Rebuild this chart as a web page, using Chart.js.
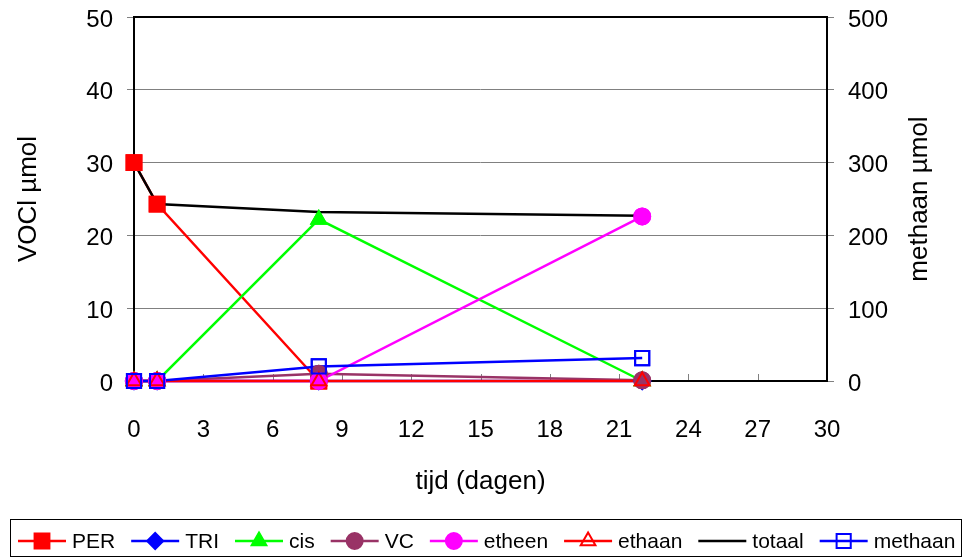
<!DOCTYPE html>
<html>
<head>
<meta charset="utf-8">
<script src="https://cdn.jsdelivr.net/npm/chart.js@4.4.1/dist/chart.umd.min.js"></script>
<style>
  html, body { margin: 0; padding: 0; background: #fff; }
</style>
</head>
<body>
<canvas id="chart" width="967" height="558"></canvas>
<script>
// tijd in dagen
var tijd = [0, 1, 8, 22];

// VOCl µmol (linker as)
var PER = [30, 24.3, 0, null];
var TRI = [0, 0, 0, 0];
var cis = [0, 0, 22.2, 0];
var VC = [0, 0, 1.0, 0.1];
var etheen = [0, 0, 0, 22.6];
var ethaan = [0, 0, 0, 0];
var totaal = [30, 24.3, 23.2, 22.7];

// methaan µmol (rechter as)
var methaan = [0, 0, 20, 31.5];

var xTicks = [0, 3, 6, 9, 12, 15, 18, 21, 24, 27, 30];
var font = '"Liberation Sans", Arial, sans-serif';

function pts(values) {
    return tijd.map(function (t, i) { return { x: t, y: values[i] }; });
}

function series(label, values, color, style, fill, radius, axis) {
    return {
        label: label,
        data: pts(values),
        yAxisID: axis || 'y',
        borderColor: color,
        borderWidth: 2.5,
        pointStyle: style,
        pointRadius: radius,
        pointHoverRadius: radius,
        pointBackgroundColor: fill,
        pointBorderColor: color,
        pointBorderWidth: 2,
        tension: 0,
        clip: false,
        spanGaps: false
    };
}

var datasets = [
    series('PER', PER, '#ff0000', 'rect', '#ff0000', 10.5),
    series('TRI', TRI, '#0000ff', 'rectRot', '#0000ff', 8),
    series('cis', cis, '#00ff00', 'triangle', '#00ff00', 8.5),
    series('VC', VC, '#993366', 'circle', '#993366', 8),
    series('etheen', etheen, '#ff00ff', 'circle', '#ff00ff', 8),
    series('ethaan', ethaan, '#ff0000', 'triangle', 'rgba(0,0,0,0)', 8.5),
    series('totaal', totaal, '#000000', 'circle', '#000000', 0),
    series('methaan', methaan, '#0000ff', 'rect', 'rgba(0,0,0,0)', 10, 'y1')
];
// Excel-volgorde: eerste serie onderop
datasets.forEach(function (ds, i) { ds.order = datasets.length - i; });

// y axes: fixed width, no extra label padding
function fixY(width) {
    return function (s) {
        s.width = width;
        s.paddingTop = 0;
        s.paddingBottom = 0;
    };
}

// frame + x ticks inside
var framePlugin = {
    id: 'frame',
    beforeDatasetsDraw: function (chart) {
        var ctx = chart.ctx, a = chart.chartArea, xs = chart.scales.x;
        ctx.save();
        ctx.strokeStyle = '#808080';
        ctx.lineWidth = 1;
        ctx.beginPath();
        xs.ticks.forEach(function (t) {
            var px = Math.round(xs.getPixelForValue(t.value)) + 0.5;
            ctx.moveTo(px, a.bottom);
            ctx.lineTo(px, a.bottom - 7);
        });
        ctx.stroke();
        ctx.strokeStyle = '#000';
        ctx.lineWidth = 2;
        ctx.strokeRect(a.left, a.top, a.right - a.left, a.bottom - a.top);
        ctx.restore();
    },
    // markers above all lines, like Excel
    afterDatasetsDraw: function (chart) {
        var ctx = chart.ctx;
        chart.data.datasets.forEach(function (ds, i) {
            var meta = chart.getDatasetMeta(i);
            meta.data.forEach(function (p) { p.draw(ctx); });
        });
    },
    afterDraw: function (chart) {
        var ctx = chart.ctx, a = chart.chartArea;
        ctx.save();
        // right axis title, bottom-to-top
        ctx.fillStyle = '#000';
        ctx.font = '26px ' + font;
        ctx.textAlign = 'center';
        ctx.textBaseline = 'middle';
        ctx.translate(920, (a.top + a.bottom) / 2);
        ctx.rotate(-Math.PI / 2);
        ctx.fillText('methaan µmol', 0, 0);
        ctx.restore();

        // legend
        ctx.save();
        ctx.strokeStyle = '#000';
        ctx.lineWidth = 1;
        ctx.strokeRect(10.5, 519.5, 951, 37);
        ctx.font = '21px ' + font;
        ctx.textBaseline = 'middle';
        ctx.textAlign = 'left';
        var x = 18, y = 541;
        chart.data.datasets.forEach(function (ds) {
            ctx.strokeStyle = ds.borderColor;
            ctx.lineWidth = ds.borderWidth;
            ctx.beginPath();
            ctx.moveTo(x, y);
            ctx.lineTo(x + 48, y);
            ctx.stroke();
            if (ds.pointRadius > 0) {
                ctx.fillStyle = ds.pointBackgroundColor;
                ctx.strokeStyle = ds.pointBorderColor;
                ctx.lineWidth = ds.pointBorderWidth;
                Chart.helpers.drawPoint(ctx, {
                    pointStyle: ds.pointStyle,
                    radius: ds.pointRadius,
                    rotation: 0,
                    borderWidth: ds.pointBorderWidth
                }, x + 24, y);
            }
            ctx.fillStyle = '#000';
            ctx.fillText(ds.label, x + 54, y + 1);
            x += 54 + ctx.measureText(ds.label).width + 16;
        });
        ctx.restore();
    }
};

new Chart(document.getElementById('chart'), {
    type: 'line',
    data: { datasets: datasets },
    plugins: [framePlugin],
    options: {
        responsive: false,
        animation: false,
        events: [],
        layout: { padding: { top: 17, bottom: 43, left: 0, right: 0 } },
        plugins: {
            legend: { display: false },
            tooltip: { enabled: false }
        },
        scales: {
            x: {
                type: 'linear',
                min: 0,
                max: 30,
                afterBuildTicks: function (s) { s.ticks = xTicks.map(function (v) { return { value: v }; }); },
                afterFit: function (s) { s.height = 134; },
                grid: { drawOnChartArea: false, drawTicks: false },
                border: { display: false },
                ticks: { color: '#000', font: { family: font, size: 24 }, padding: 35, maxRotation: 0 },
                title: { display: true, text: 'tijd (dagen)', color: '#000', font: { family: font, size: 26 }, padding: { top: 0, bottom: 18 } }
            },
            y: {
                position: 'left',
                min: 0,
                max: 50,
                afterFit: fixY(134),
                grid: { color: '#808080', lineWidth: 1, tickLength: 7, tickColor: '#808080' },
                border: { display: false },
                ticks: { stepSize: 10, color: '#000', font: { family: font, size: 24 }, padding: 14, labelOffset: 3 },
                title: { display: true, text: 'VOCl µmol', color: '#000', font: { family: font, size: 26 }, padding: { top: 13, bottom: 0 } }
            },
            y1: {
                position: 'right',
                min: 0,
                max: 500,
                afterFit: fixY(140),
                grid: { drawOnChartArea: false, tickLength: 7, tickColor: '#808080' },
                border: { display: false },
                ticks: { stepSize: 100, color: '#000', font: { family: font, size: 24 }, padding: 14, labelOffset: 3 },
                title: { display: false }
            }
        }
    }
});
</script>
</body>
</html>
